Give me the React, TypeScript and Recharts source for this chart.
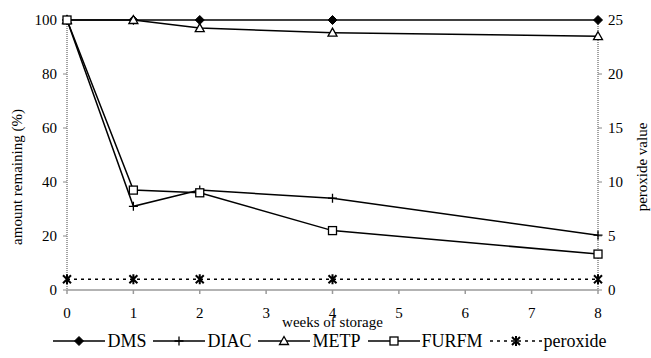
import React from "react";
import { Legend, Line, LineChart, XAxis, YAxis } from "recharts";

// weeks sampled
const weeks = [0, 1, 2, 4, 8];
// amount remaining (%)
const dms = [100, 100, 100, 100, 100];
const diac = [100, 31, 37, 34, 20.3];
const metp = [100, 100, 97, 95.3, 94];
const furfm = [100, 37, 36, 22, 13.3];
// peroxide value (right axis)
const peroxide = [1, 1, 1, 1, 1];

const xTicks = [0, 1, 2, 3, 4, 5, 6, 7, 8];
const leftTicks = [0, 20, 40, 60, 80, 100];
const rightTicks = [0, 5, 10, 15, 20, 25];

const data = weeks.map((w, i) => ({
  week: w, DMS: dms[i], DIAC: diac[i], METP: metp[i], FURFM: furfm[i], peroxide: peroxide[i],
}));

const FONT = "Liberation Serif, Tinos, DejaVu Serif, serif";
const TICK = { fill: "#000", fontSize: 15, fontFamily: FONT };

type Shape = "diamond" | "plus" | "triangle" | "square" | "star";

function Marker({ shape, cx, cy }: { shape: Shape; cx: number; cy: number }) {
  const s = 4.5;
  if (shape === "diamond")
    return <path d={`M${cx},${cy - s} L${cx + s},${cy} L${cx},${cy + s} L${cx - s},${cy} Z`} fill="#000" stroke="#000" />;
  if (shape === "plus")
    return <path d={`M${cx - s},${cy} H${cx + s} M${cx},${cy - s} V${cy + s}`} stroke="#000" strokeWidth={1.3} fill="none" />;
  if (shape === "triangle")
    return <path d={`M${cx},${cy - s} L${cx + s},${cy + s - 1} L${cx - s},${cy + s - 1} Z`} fill="#fff" stroke="#000" strokeWidth={1.3} />;
  if (shape === "square")
    return <rect x={cx - 4} y={cy - 4} width={8} height={8} fill="#fff" stroke="#000" strokeWidth={1.3} />;
  return (
    <path
      d={`M${cx - 4},${cy - 4} L${cx + 4},${cy + 4} M${cx + 4},${cy - 4} L${cx - 4},${cy + 4} M${cx},${cy - 5} V${cy + 5}`}
      stroke="#000" strokeWidth={2} fill="none"
    />
  );
}

const dotFor = (shape: Shape) => (p: any) => <Marker key={`${shape}-${p.index}`} shape={shape} cx={p.cx} cy={p.cy} />;

const SERIES: { key: string; shape: Shape; dashed?: boolean }[] = [
  { key: "DMS", shape: "diamond" },
  { key: "DIAC", shape: "plus" },
  { key: "METP", shape: "triangle" },
  { key: "FURFM", shape: "square" },
  { key: "peroxide", shape: "star", dashed: true },
];

function LegendRow() {
  return (
    <div style={{ display: "flex", justifyContent: "center", alignItems: "center", height: 20, fontFamily: FONT, fontSize: 18 }}>
      {SERIES.map((s, i) => (
        <span key={s.key} style={{ display: "flex", alignItems: "center", marginRight: i < SERIES.length - 1 ? 7 : 0 }}>
          <svg width={52} height={14}>
            <line x1={0} y1={7} x2={52} y2={7} stroke="#000" strokeWidth={1.5} strokeDasharray={s.dashed ? "3 4" : undefined} />
            <Marker shape={s.shape} cx={26} cy={7} />
          </svg>
          <span style={{ marginLeft: 2 }}>{s.key}</span>
        </span>
      ))}
    </div>
  );
}

export default function App() {
  return (
    <div style={{ width: 651, height: 358, background: "#fff", fontFamily: FONT }}>
      <style>{"body{margin:0}"}</style>
      <LineChart width={651} height={358} data={data} margin={{ top: 20, right: 8, bottom: 7, left: 17 }}>
        <XAxis
          dataKey="week" type="number" domain={[0, 8]} ticks={xTicks} allowDecimals={false}
          height={41} tick={TICK} tickSize={4} tickMargin={13}
          stroke="#9a9a9a" strokeWidth={1.5} tickLine={{ stroke: "#9a9a9a" }}
          label={{ value: "weeks of storage", position: "insideBottom", offset: 4, fill: "#000", fontSize: 15, fontFamily: FONT }}
        />
        <YAxis
          yAxisId="left" domain={[0, 100]} ticks={leftTicks} width={50}
          tick={TICK} tickSize={4} tickMargin={6}
          axisLine={{ stroke: "#444", strokeDasharray: "1 1" }} tickLine={{ stroke: "#888" }}
          label={(p: any) => (
            <text x={p.viewBox.x} y={177} transform={`rotate(-90 ${p.viewBox.x} 177)`} textAnchor="middle"
              dominantBaseline="central" fontSize={15} fontFamily={FONT} fill="#000">
              amount remaining (%)
            </text>
          )}
        />
        <YAxis
          yAxisId="right" orientation="right" domain={[0, 25]} ticks={rightTicks} width={45}
          tick={TICK} tickSize={4} tickMargin={6}
          axisLine={{ stroke: "#444", strokeDasharray: "1 1" }} tickLine={{ stroke: "#888" }}
          label={(p: any) => {
            const x = p.viewBox.x + 44;
            return (
              <text x={x} y={167} transform={`rotate(-90 ${x} 167)`} textAnchor="middle"
                dominantBaseline="central" fontSize={15} fontFamily={FONT} fill="#000">
                peroxide value
              </text>
            );
          }}
        />
        <Legend verticalAlign="bottom" content={() => <LegendRow />} />
        {SERIES.map((s) => (
          <Line
            key={s.key}
            yAxisId={s.key === "peroxide" ? "right" : "left"}
            dataKey={s.key}
            stroke="#000"
            strokeWidth={1.5}
            strokeDasharray={s.dashed ? "3 4" : undefined}
            dot={dotFor(s.shape)}
            activeDot={false}
            isAnimationActive={false}
          />
        ))}
      </LineChart>
    </div>
  );
}
